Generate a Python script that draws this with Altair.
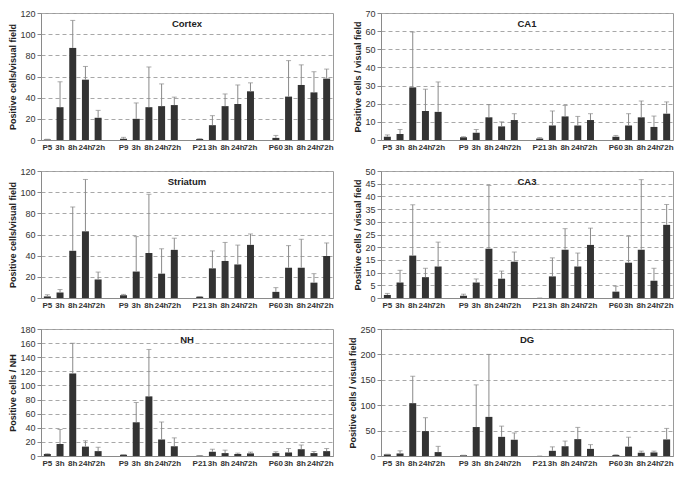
import altair as alt
import pandas as pd

groups = ["P5", "P9", "P21", "P60"]
times = ["3h", "8h", "24h", "72h"]

cortex_mean = [0.5, 31, 87, 57, 21, 1.2, 20, 31, 32, 33, 1, 14, 32, 34, 46, 2, 41, 52, 45, 58]
cortex_sd = [0.1, 24, 26, 12.5, 7, 1.3, 15, 38, 21, 7.5, 0.2, 9, 11.5, 18, 8, 2.3, 34, 19, 19.5, 9]

ca1_mean = [1.8, 3.3, 29, 16, 15.5, 1.5, 4, 12.5, 7.5, 11, 0.8, 8, 13, 8, 11, 1.8, 8, 12.5, 7.2, 14.5]
ca1_sd = [1.0, 2.5, 30.5, 12, 16.5, 0.3, 1.8, 7, 2.5, 3.5, 0.5, 8, 6, 5, 3.5, 0.7, 6.5, 9, 6, 6.5]

striatum_mean = [1.5, 5.2, 44.6, 63, 17.5, 2.5, 25, 42.5, 23, 45.5, 1.2, 28, 35, 31.7, 50.2, 5.8, 28.6, 28.6, 14.5, 39.7]
striatum_sd = [1.5, 2.8, 41.4, 49, 7, 0.9, 33, 55.5, 23.5, 11, 0.2, 16.5, 17.5, 18.3, 10.3, 4, 20.9, 26.9, 8.5, 12.3]

ca3_mean = [1.2, 6.1, 16.7, 8.2, 12.4, 0.9, 6.1, 19.4, 7.6, 14.3, 0, 8.5, 19, 12.4, 20.9, 2.5, 13.9, 19, 6.8, 28.8]
ca3_sd = [0.6, 4.8, 20, 3.5, 9.6, 0.6, 1.4, 24.9, 3, 3.8, 0, 7.3, 8.3, 5.3, 6.6, 2.1, 10.4, 27.6, 4.9, 8]

nh_mean = [2.8, 17, 117, 13.3, 6.9, 1.8, 47.8, 84.5, 23.4, 13.8, 0.5, 6, 4.1, 2.8, 3.7, 4.1, 5, 9.6, 4.1, 6.9]
nh_sd = [0.4, 20.6, 42.8, 8.3, 5.5, 0.2, 28, 66.5, 24.8, 11.9, 0.2, 3.6, 4.2, 1.3, 1.8, 1.9, 5.6, 6, 2.3, 3.7]

dg_mean = [3.2, 5, 104, 49, 7.7, 1.3, 57, 77, 37.7, 32, 0, 10.2, 19.2, 33.2, 14, 2, 18.5, 6.4, 7, 32.6]
dg_sd = [0.3, 5.2, 53, 26.4, 11.3, 0.2, 83, 123, 21.1, 13.4, 0, 7.8, 10.2, 23.1, 8.4, 0.5, 18.5, 3.2, 2.6, 21.7]

data_slots = []
all_slots = []
for gi, g in enumerate(groups):
    keys = [g] + [f"{g}_{t}" for t in times]
    data_slots += keys
    all_slots += keys
    if gi < len(groups) - 1:
        all_slots.append(f"gap{gi}")

label_expr = ("indexof(datum.value,'gap')==0 ? '' : "
              "(indexof(datum.value,'_')>=0 ? substring(datum.value, indexof(datum.value,'_')+1) : datum.value)")

FONT = "Liberation Sans"
W, H = 292, 127


def panel(name, ytitle, ymax, ystep, mean, sd):
    df = pd.DataFrame({
        "slot": data_slots,
        "val": mean,
        "hi": [m + s for m, s in zip(mean, sd)],
    })
    x = alt.X(
        "slot:N",
        scale=alt.Scale(domain=all_slots, paddingInner=0.45, paddingOuter=0.225),
        axis=alt.Axis(title=None, labelExpr=label_expr, labelAngle=0,
                      labelOverlap=False, labelFontWeight="bold", labelFontSize=8,
                      ticks=False, labelPadding=3),
    )
    yscale = alt.Scale(domain=[0, ymax], nice=False)
    base = alt.Chart(df).encode(x=x)
    bars = base.mark_bar(color="#333333").encode(
        y=alt.Y("val:Q", scale=yscale, title=ytitle,
                axis=alt.Axis(tickCount=ymax // ystep, grid=True, gridDash=[4, 3],
                              gridColor="#a8a8a8", tickSize=4, labelPadding=2,
                              titlePadding=2))
    )
    rule = base.mark_rule(color="#8a8a8a").encode(y="val:Q", y2="hi:Q")
    cap = base.mark_tick(color="#8a8a8a", size=5, thickness=1).encode(y="hi:Q")
    ttl = alt.Chart(pd.DataFrame({"t": [name]})).mark_text(
        font=FONT, fontSize=9.5, fontWeight="bold", color="#222222"
    ).encode(text="t:N", x=alt.value(W / 2), y=alt.value(11))
    return alt.layer(bars, rule, cap, ttl).properties(width=W, height=H)


charts = [
    panel("Cortex", "Positive cells/visual field", 120, 20, cortex_mean, cortex_sd),
    panel("CA1", "Positive cells / visual field", 70, 10, ca1_mean, ca1_sd),
    panel("Striatum", "Positive cells/visual field", 120, 20, striatum_mean, striatum_sd),
    panel("CA3", "Positive cells / visual field", 50, 5, ca3_mean, ca3_sd),
    panel("NH", "Positive cells / NH", 180, 20, nh_mean, nh_sd),
    panel("DG", "Positive cells / visual field", 250, 50, dg_mean, dg_sd),
]

chart = alt.concat(*charts, columns=2, spacing=14).properties(padding=0).configure_axis(
    labelFont=FONT, titleFont=FONT, labelFontSize=9, titleFontSize=9,
    labelColor="#333333", titleColor="#222222", domainColor="#8a8a8a", tickColor="#8a8a8a",
).configure_view(stroke="#9a9a9a")

chart.save("out.html", embed_options={"renderer": "svg", "actions": False})
